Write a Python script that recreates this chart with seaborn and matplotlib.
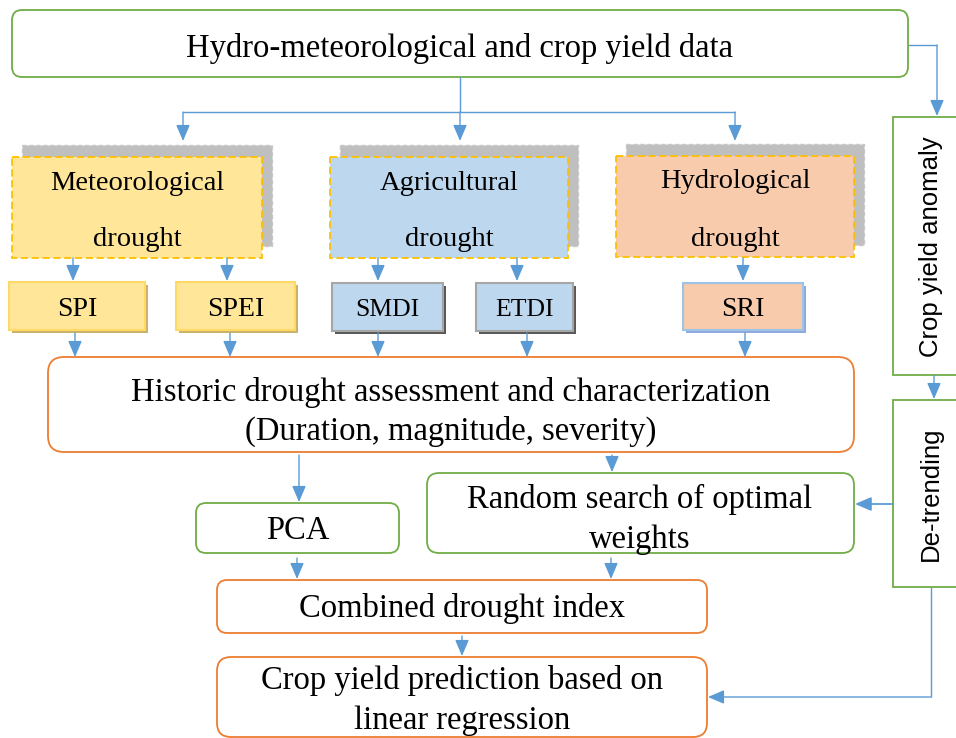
import numpy as np
import matplotlib.pyplot as plt
import seaborn as sns
from matplotlib.patches import FancyBboxPatch, Rectangle

sns.set_theme(style="white")
plt.rcParams['font.family'] = ['Liberation Serif', 'DejaVu Serif']
plt.rcParams['text.color'] = 'black'

# ---- chart content ----
title_text = "Hydro-meteorological and crop yield data"
drought_labels = [("Meteorological", "drought"), ("Agricultural", "drought"), ("Hydrological", "drought")]
index_labels = ["SPI", "SPEI", "SMDI", "ETDI", "SRI"]
history_text = ("Historic drought assessment and characterization", "(Duration, magnitude, severity)")
pca_text = "PCA"
search_text = ("Random search of optimal", "weights")
combined_text = "Combined drought index"
predict_text = ("Crop yield prediction based on", "linear regression")
side_labels = ["Crop yield anomaly", "De-trending"]

# ---- layout (pixel units, y grows downwards) ----
drought_boxes = [(12, 157, 250, 101), (330, 157, 238, 101), (616, 156, 238, 101)]
drought_fill = ['#FFE699', '#BDD7EE', '#F8CBAD']
index_boxes = [(9, 282, 136, 48), (176, 282, 119, 48), (332, 283, 111, 48),
               (476, 283, 97, 48), (683, 283, 120, 47)]
index_fill = ['#FFE699', '#FFE699', '#BDD7EE', '#BDD7EE', '#F8CBAD']
index_edge = ['#FFD966', '#FFD966', '#A6A6A6', '#A6A6A6', '#9DC3E6']
index_shadow = ['#C9B26A', '#C9B26A', '#595959', '#595959', '#8FAADC']
index_size = [20, 20, 18.5, 18.5, 20]

GREEN = '#70AD47'
ORANGE = '#ED7D31'
BLUE = '#5B9BD5'
FS = 23.5

fig = plt.figure(figsize=(9.56, 7.38), dpi=100)
ax = fig.add_axes([0, 0, 1, 1])
ax.set_xlim(0, 956)
ax.set_ylim(738, 0)
ax.axis('off')


def rbox(x, y, w, h, edge, r=12, lw=1.3):
    ax.add_patch(FancyBboxPatch((x, y), w, h, boxstyle=f"round,pad=0,rounding_size={r}",
                                fc='white', ec=edge, lw=lw, zorder=2))


def label(x, y, s, fs=FS, dy=3, **kw):
    # small downward nudge: va='center' counts descenders, the reference centres on the glyphs
    ax.text(x, y + dy, s, ha='center', va='center', fontsize=fs, zorder=3, **kw)


def arrow(pts, lw=1.0):
    pts = np.array(pts, dtype=float)
    if len(pts) > 2:
        ax.plot(pts[:-1, 0], pts[:-1, 1], color=BLUE, lw=lw, zorder=1, solid_capstyle='butt')
    ax.annotate('', xy=pts[-1], xytext=pts[-2],
                arrowprops=dict(arrowstyle='-|>,head_length=0.7,head_width=0.3',
                                color=BLUE, lw=lw, shrinkA=0, shrinkB=0, mutation_scale=14),
                zorder=3)


# top box
rbox(12, 10, 896, 67, GREEN, r=10)
label(460, 45, title_text)

# branch to drought types
ax.plot([460, 460], [77, 112], color=BLUE, lw=1.0)
ax.plot([183, 735], [112, 112], color=BLUE, lw=1.0)
for xc in [183, 460, 735]:
    arrow([(xc, 112), (xc, 141)])

# drought boxes with shadow
for (x, y, w, h), fc, (l1, l2) in zip(drought_boxes, drought_fill, drought_labels):
    ax.add_patch(Rectangle((x + 10, y - 12), w, h, fc='#BFBFBF', ec='#C8C8C8', lw=1,
                           ls=(0, (3, 2)), zorder=1))
    ax.add_patch(Rectangle((x, y), w, h, fc=fc, ec='#FFC000', lw=1.3, ls=(0, (4, 2)), zorder=2))
    label(x + w / 2, y + 23, l1, fs=20.5)
    label(x + w / 2, y + 80, l2, fs=20.5)

# index boxes
index_x = [73, 227, 378, 517, 743]
for xc in index_x:
    arrow([(xc, 258), (xc, 281)])
for (x, y, w, h), fc, ec, sc, lab, fs in zip(index_boxes, index_fill, index_edge,
                                             index_shadow, index_labels, index_size):
    ax.add_patch(Rectangle((x + 3, y + 3), w, h, fc=sc, ec='none', zorder=1))
    ax.add_patch(Rectangle((x, y), w, h, fc=fc, ec=ec, lw=1.5, zorder=2))
    label(x + w / 2, y + h / 2, lab, fs=fs)

for xc in [75, 230, 378, 527, 745]:
    arrow([(xc, 333), (xc, 357)])

# historic assessment
rbox(48, 357, 806, 95, ORANGE, r=16)
label(451, 389, history_text[0])
label(451, 428, history_text[1])

arrow([(299, 455), (299, 502)])
arrow([(612, 455), (612, 472)])

rbox(196, 503, 203, 50, GREEN, r=10)
label(298, 528, pca_text)
rbox(427, 473, 427, 80, GREEN, r=12)
label(640, 496, search_text[0])
label(640, 537, search_text[1])

arrow([(297, 558), (297, 579)])
arrow([(611, 558), (611, 579)])
rbox(217, 580, 490, 53, ORANGE, r=10)
label(462, 606, combined_text)

arrow([(462, 636), (462, 656)])
rbox(217, 657, 490, 80, ORANGE, r=14)
label(462, 677, predict_text[0])
label(462, 718, predict_text[1])

# right column
sans = ['Liberation Sans', 'DejaVu Sans']
arrow([(908, 45), (937, 45), (937, 116)])
ax.add_patch(Rectangle((893, 117), 80, 258, fc='white', ec=GREEN, lw=1.3, zorder=2))
label(931, 247, side_labels[0], fs=18.5, dy=0, rotation=90, family=sans)
arrow([(934, 375), (934, 399)])
ax.add_patch(Rectangle((893, 400), 80, 187, fc='white', ec=GREEN, lw=1.3, zorder=2))
label(931, 494, side_labels[1], fs=18.5, dy=0, rotation=90, family=sans)
arrow([(893, 504), (855, 504)], lw=1.3)
arrow([(931, 587), (931, 697), (708, 697)])

fig.savefig('out.png', dpi=100)
